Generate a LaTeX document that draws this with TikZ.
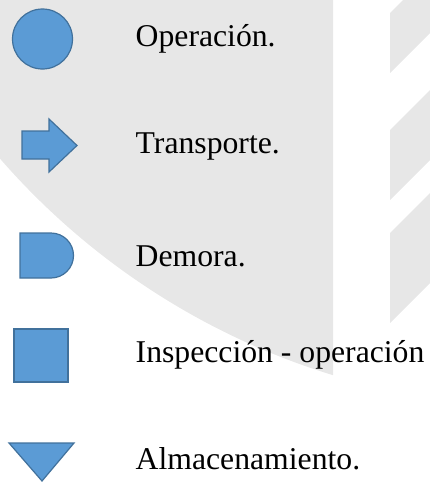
\documentclass[tikz,border=0pt]{standalone}
\usepackage{fontspec}
\setmainfont{Liberation Serif}
\usetikzlibrary{positioning}
\definecolor{symfill}{RGB}{91,155,213}
\definecolor{symline}{RGB}{65,113,156}
\definecolor{wmgray}{RGB}{231,231,231}
\tikzset{symb/.style={fill=symfill,draw=symline,line width=1.2pt,line join=miter},
         lbl/.style={anchor=base west,inner sep=0pt,font=\fontsize{31.7}{38}\selectfont}
}

\begin{document}
\begin{tikzpicture}[x=1pt,y=-1pt]
\useasboundingbox (0,0) rectangle (430,482);
\begin{scope}
\clip (0,0) rectangle (430,482);
%Watermark: disc
\begin{scope}
\clip (0,0) rectangle (333,482);
\fill[wmgray] (544.7,-315.3) circle (722);
\end{scope}
%Watermark: stripes
\fill[wmgray] (390,13) -- (430,-27) -- (430,33) -- (390,73) -- cycle;
\fill[wmgray] (390,130) -- (430,90) -- (430,160) -- (390,200) -- cycle;
\fill[wmgray] (390,233) -- (430,193) -- (430,283) -- (390,323) -- cycle;

%Shape: Circle
\draw[symb] (42.5,39) circle (30);
%Shape: Right Arrow
\draw[symb] (22,131) -- (49,131) -- (49,119) -- (77,145.5) -- (49,172) -- (49,159) -- (22,159) -- cycle;
%Shape: Delay
\draw[symb] (20,233) -- (51,233) arc[start angle=-90,end angle=90,radius=22.5] -- (20,278) -- cycle;
%Shape: Square
\draw[symb] (14,329) rectangle (68,382);
%Shape: Triangle
\draw[symb] (9,443) -- (74,443) -- (42,481) -- cycle;
\end{scope}

% Text Node
\node[lbl] (oper) at (135.5,46.3) {Operación.};
% Text Node
\node[lbl] (trans) at (135.5,153) {Transporte.};
% Text Node
\node[lbl] (demora) at (135.5,266.7) {Demora.};
% Text Node
\node[lbl] (insp) at (135.5,362) {Inspección - operación};
% Text Node
\node[lbl] (almac) at (135.5,469.5) {Almacenamiento.};

\end{tikzpicture}
\end{document}
